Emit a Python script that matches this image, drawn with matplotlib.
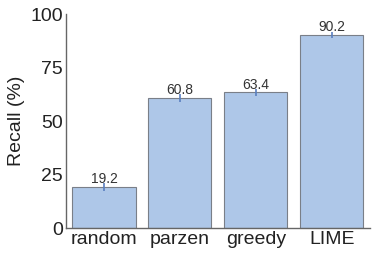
import matplotlib
matplotlib.use("Agg")
import matplotlib.pyplot as plt
import numpy as np

plt.rcParams['font.family'] = ['Liberation Sans', 'DejaVu Sans']

methods = ['random', 'parzen', 'greedy', 'LIME']
recall = [19.2, 60.8, 63.4, 90.2]
err = [1.9, 2.0, 1.6, 1.2]

fig = plt.figure(figsize=(3.74, 2.56), dpi=100)
ax = fig.add_axes([0.1765, 0.109, 0.8125, 0.836])

x = np.arange(len(methods))
ax.bar(x, recall, width=0.83, color='#aec7e8', edgecolor='#7a7f88', linewidth=0.8,
       yerr=err, error_kw=dict(ecolor='#5a7fc0', elinewidth=1.2, capsize=0))
for xi, v in zip(x, recall):
    ax.text(xi, v + 0.3, f'{v}', ha='center', va='bottom', fontsize=10, color='#333333')

ax.set_xlim(-0.5, 3.5)
ax.set_ylim(0, 100)
ax.set_yticks([0, 25, 50, 75, 100])
ax.set_xticks(x)
ax.set_xticklabels(methods)
ax.tick_params(axis='both', length=0, labelsize=14, colors='#222222', pad=2)
ax.set_ylabel('Recall (%)', fontsize=14, color='#222222')

for s in ['top', 'right']:
    ax.spines[s].set_visible(False)
for s in ['left', 'bottom']:
    ax.spines[s].set_color('#666666')
    ax.spines[s].set_linewidth(1.0)

fig.savefig('out.png', dpi=100)
